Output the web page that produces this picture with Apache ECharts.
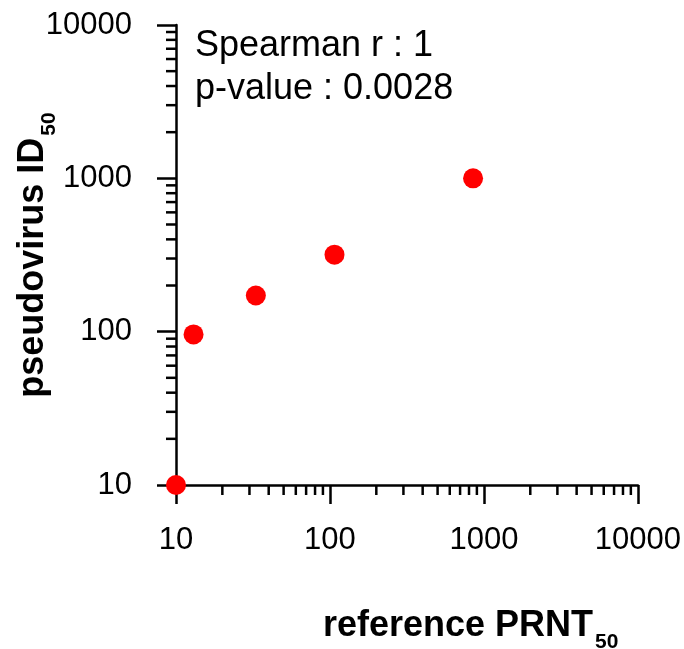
<!DOCTYPE html>
<html lang="en">

<head>
    <meta charset="UTF-8">
    <title>PRNT vs pseudovirus</title>
    <script src="https://cdn.jsdelivr.net/npm/echarts@6/dist/echarts.min.js"></script>
</head>

<body style="margin:0;background:#fff;">
    <div id="main" style="width: 684px;height:649px;"></div>
    <script type="text/javascript">

        // data
        let prnt = [10, 13, 33, 107, 850];
        let id50 = [10, 96, 172, 318, 1000];
        let majorTicks = [10, 100, 1000, 10000];
        let noteLines = ['Spearman r : 1', 'p-value : 0.0028'];

        // minor ticks at 2..9 of each decade
        let minorTicks = [];
        for (let d = 10; d < 10000; d *= 10) {
            for (let k = 2; k <= 9; k++) minorTicks.push(d * k);
        }
        let minorData = [];
        minorTicks.forEach(function (v) {
            minorData.push([v, 0]);
            minorData.push([v, 1]);
        });

        let myChart = echarts.init(document.getElementById('main'));
        let font = 'Liberation Sans, Arial, sans-serif';

        function plainLabel(v) {
            return String(Math.round(v));
        }

        let axisCommon = {
            type: 'log', min: 10, max: 10000, logBase: 10,
            axisLine: { lineStyle: { color: '#000', width: 2.5 } },
            axisTick: { show: true, inside: false, length: 19, lineStyle: { color: '#000', width: 2.5 } },
            splitLine: { show: false }
        };

        let option = {
            backgroundColor: '#fff',
            animation: false,
            grid: { left: 176, right: 44, top: 25, bottom: 164 },
            xAxis: Object.assign({}, axisCommon, {
                axisLabel: { margin: 40, fontSize: 31, color: '#000', fontFamily: font, formatter: plainLabel }
            }),
            yAxis: Object.assign({}, axisCommon, {
                axisLabel: { margin: 44, fontSize: 31, color: '#000', fontFamily: font, formatter: plainLabel }
            }),
            series: [
                {
                    type: 'custom',
                    clip: false,
                    silent: true,
                    data: minorData,
                    renderItem: function (params, api) {
                        let v = api.value(0);
                        let which = api.value(1);
                        let p;
                        let shape;
                        if (which === 0) {
                            p = api.coord([v, 10]);
                            shape = { x1: p[0], y1: p[1], x2: p[0], y2: p[1] + 10 };
                        } else {
                            p = api.coord([10, v]);
                            shape = { x1: p[0], y1: p[1], x2: p[0] - 10, y2: p[1] };
                        }
                        return {
                            type: 'line',
                            shape: shape,
                            style: { stroke: '#000', lineWidth: 2.5 }
                        };
                    }
                },
                {
                    type: 'scatter',
                    symbolSize: 20,
                    clip: false,
                    itemStyle: { color: '#ff0000', opacity: 1 },
                    data: prnt.map(function (x, i) { return [x, id50[i]]; }),
                    z: 5
                }
            ],
            graphic: [
                {
                    type: 'text', left: 195, top: 25,
                    style: {
                        text: noteLines.join('\n'), fontSize: 36, lineHeight: 43,
                        fill: '#000', fontFamily: font
                    }
                },
                {
                    type: 'text', left: 323, top: 608,
                    style: {
                        text: '{t|reference PRNT}{s|50}',
                        fill: '#000',
                        rich: {
                            t: { fontSize: 36, fontWeight: 'bold', fontFamily: font, verticalAlign: 'bottom' },
                            s: { fontSize: 21, fontWeight: 'bold', fontFamily: font, verticalAlign: 'bottom', padding: [0, 0, -9, 2] }
                        }
                    }
                },
                {
                    type: 'text', x: 33, y: 255, rotation: Math.PI / 2,
                    style: {
                        text: '{t|pseudovirus ID}{s|50}',
                        fill: '#000',
                        align: 'center', verticalAlign: 'middle',
                        rich: {
                            t: { fontSize: 36, fontWeight: 'bold', fontFamily: font, verticalAlign: 'bottom' },
                            s: { fontSize: 21, fontWeight: 'bold', fontFamily: font, verticalAlign: 'bottom', padding: [0, 0, -9, 2] }
                        }
                    }
                }
            ]
        };

        myChart.setOption(option);

    </script>
</body>

</html>
